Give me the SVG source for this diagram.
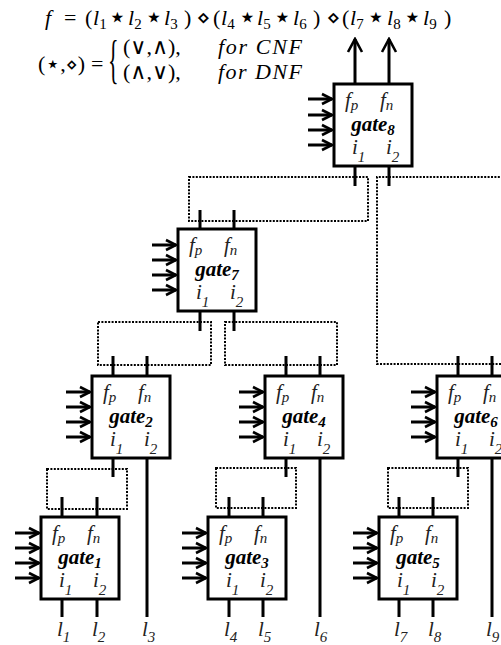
<svg xmlns="http://www.w3.org/2000/svg" width="501" height="645" viewBox="0 0 501 645">
<style>
.box{fill:#fff;stroke:#000;stroke-width:3}
.ln{stroke:#000;stroke-width:3;fill:none}
.dot{stroke:#000;stroke-width:2;fill:none;stroke-dasharray:2 1.4}
.lbl{font-family:"Liberation Serif",serif;font-style:italic;font-size:21px;fill:#222}
.gt{font-family:"Liberation Serif",serif;font-style:italic;font-weight:bold;font-size:21px;fill:#000}
.sub{font-size:15px}
.m{font-family:"Liberation Serif","DejaVu Serif",serif;font-size:22px;fill:#000}
.mi{font-style:italic}
.ms{font-size:15px}
.st{font-family:"DejaVu Sans",sans-serif;font-size:30px;fill:#000;text-anchor:middle}
.dm{font-family:"DejaVu Sans",sans-serif;font-size:22px;fill:#000;text-anchor:middle}
.st2{font-family:"DejaVu Sans",sans-serif;font-size:24px}
.dm2{font-family:"DejaVu Sans",sans-serif;font-size:19px}
</style>
<defs>
<marker id="ah" markerUnits="userSpaceOnUse" markerWidth="14" markerHeight="14" refX="11" refY="6" orient="auto" viewBox="0 0 14 12">
<path d="M1,1 L11,6 L1,11" fill="none" stroke="#000" stroke-width="2.6"/>
</marker>
<marker id="ahv" markerUnits="userSpaceOnUse" markerWidth="16" markerHeight="18" refX="14" refY="8" orient="auto" viewBox="0 0 16 16">
<path d="M1,1 L14,8 L1,15" fill="none" stroke="#000" stroke-width="2.6"/>
</marker>
<g id="gbody">
<rect class="box" x="0" y="0" width="78" height="82"/>
<text class="lbl" x="11" y="23">f<tspan class="sub" dy="3">p</tspan></text>
<text class="lbl" x="46" y="23">f<tspan class="sub" dy="3">n</tspan></text>
<text class="lbl" x="18" y="70">i<tspan class="sub" dy="8">1</tspan></text>
<text class="lbl" x="52" y="70">i<tspan class="sub" dy="8">2</tspan></text>
</g>
</defs>

<g id="formula">
<text class="m" y="25"><tspan class="mi" x="45">f</tspan><tspan x="64">=</tspan><tspan x="85">(</tspan><tspan class="mi" x="93">l</tspan><tspan class="ms" dy="4">1</tspan><tspan class="mi" x="128" dy="-4">l</tspan><tspan class="ms" dy="4">2</tspan><tspan class="mi" x="164" dy="-4">l</tspan><tspan class="ms" dy="4">3</tspan><tspan x="184" dy="-4">)</tspan><tspan x="213">(</tspan><tspan class="mi" x="221">l</tspan><tspan class="ms" dy="4">4</tspan><tspan class="mi" x="257" dy="-4">l</tspan><tspan class="ms" dy="4">5</tspan><tspan class="mi" x="293" dy="-4">l</tspan><tspan class="ms" dy="4">6</tspan><tspan x="313" dy="-4">)</tspan><tspan x="342">(</tspan><tspan class="mi" x="350">l</tspan><tspan class="ms" dy="4">7</tspan><tspan class="mi" x="387" dy="-4">l</tspan><tspan class="ms" dy="4">8</tspan><tspan class="mi" x="423" dy="-4">l</tspan><tspan class="ms" dy="4">9</tspan><tspan x="444" dy="-4">)</tspan></text>
<text class="st" y="27"><tspan x="117.5">⋆</tspan><tspan x="154">⋆</tspan><tspan x="247.5">⋆</tspan><tspan x="282.5">⋆</tspan><tspan x="376">⋆</tspan><tspan x="412.5">⋆</tspan></text>
<text class="dm" y="25"><tspan x="203.5">⋄</tspan><tspan x="333.5">⋄</tspan></text>
<text class="m" x="38" y="71">(<tspan class="st2" dy="1">⋆</tspan><tspan dy="-1">,</tspan><tspan class="dm2">⋄</tspan>)</text>
<text class="m" x="91" y="71">=</text>
<text class="m" transform="translate(108,77) scale(1,2.4)" font-size="21">{</text>
<text class="m" x="123" y="54">(∨,∧),</text>
<text class="m mi" x="218" y="54" textLength="84">for CNF</text>
<text class="m" x="123" y="79">(∧,∨),</text>
<text class="m mi" x="218" y="79" textLength="84">for DNF</text>
</g>

<g id="connectors">
<line class="ln" x1="355" y1="84" x2="355" y2="39" marker-end="url(#ahv)"/>
<line class="ln" x1="389" y1="84" x2="389" y2="39" marker-end="url(#ahv)"/>
<line class="ln" x1="308" y1="99" x2="332" y2="99" marker-end="url(#ah)"/>
<line class="ln" x1="308" y1="115" x2="332" y2="115" marker-end="url(#ah)"/>
<line class="ln" x1="308" y1="130" x2="332" y2="130" marker-end="url(#ah)"/>
<line class="ln" x1="308" y1="145" x2="332" y2="145" marker-end="url(#ah)"/>
<line class="ln" x1="152" y1="245" x2="176" y2="245" marker-end="url(#ah)"/>
<line class="ln" x1="152" y1="260" x2="176" y2="260" marker-end="url(#ah)"/>
<line class="ln" x1="152" y1="275" x2="176" y2="275" marker-end="url(#ah)"/>
<line class="ln" x1="152" y1="290" x2="176" y2="290" marker-end="url(#ah)"/>
<line class="ln" x1="66" y1="392" x2="90" y2="392" marker-end="url(#ah)"/>
<line class="ln" x1="66" y1="407" x2="90" y2="407" marker-end="url(#ah)"/>
<line class="ln" x1="66" y1="422" x2="90" y2="422" marker-end="url(#ah)"/>
<line class="ln" x1="66" y1="437" x2="90" y2="437" marker-end="url(#ah)"/>
<line class="ln" x1="239" y1="392" x2="263" y2="392" marker-end="url(#ah)"/>
<line class="ln" x1="239" y1="407" x2="263" y2="407" marker-end="url(#ah)"/>
<line class="ln" x1="239" y1="422" x2="263" y2="422" marker-end="url(#ah)"/>
<line class="ln" x1="239" y1="437" x2="263" y2="437" marker-end="url(#ah)"/>
<line class="ln" x1="411" y1="392" x2="435" y2="392" marker-end="url(#ah)"/>
<line class="ln" x1="411" y1="407" x2="435" y2="407" marker-end="url(#ah)"/>
<line class="ln" x1="411" y1="422" x2="435" y2="422" marker-end="url(#ah)"/>
<line class="ln" x1="411" y1="437" x2="435" y2="437" marker-end="url(#ah)"/>
<line class="ln" x1="15" y1="533" x2="39" y2="533" marker-end="url(#ah)"/>
<line class="ln" x1="15" y1="548" x2="39" y2="548" marker-end="url(#ah)"/>
<line class="ln" x1="15" y1="563" x2="39" y2="563" marker-end="url(#ah)"/>
<line class="ln" x1="15" y1="578" x2="39" y2="578" marker-end="url(#ah)"/>
<line class="ln" x1="182" y1="533" x2="206" y2="533" marker-end="url(#ah)"/>
<line class="ln" x1="182" y1="548" x2="206" y2="548" marker-end="url(#ah)"/>
<line class="ln" x1="182" y1="563" x2="206" y2="563" marker-end="url(#ah)"/>
<line class="ln" x1="182" y1="578" x2="206" y2="578" marker-end="url(#ah)"/>
<line class="ln" x1="353" y1="533" x2="377" y2="533" marker-end="url(#ah)"/>
<line class="ln" x1="353" y1="548" x2="377" y2="548" marker-end="url(#ah)"/>
<line class="ln" x1="353" y1="563" x2="377" y2="563" marker-end="url(#ah)"/>
<line class="ln" x1="353" y1="578" x2="377" y2="578" marker-end="url(#ah)"/>
<path class="ln" d="M355,166V186M389,166V186
M200,210V229M234,210V229M200,311V331M234,311V331
M113,356V376M147,356V376M113,458V477M147,458V617
M286,356V376M320,356V376M286,458V477M320,458V617
M458,356V376M492,356V376M458,458V477M492,458V617
M62,497V517M97,497V517M62,599V617M97,599V617
M229,497V517M263,497V517M229,599V617M263,599V617
M399,497V517M433,497V517M399,599V617M433,599V617"/>
<rect class="dot" x="189" y="177" width="179" height="44"/>
<path class="dot" d="M510,177H377V364H510"/>
<rect class="dot" x="98" y="322" width="113" height="43"/>
<rect class="dot" x="225" y="322" width="112" height="43"/>
<rect class="dot" x="47" y="469" width="80" height="40"/>
<rect class="dot" x="216" y="468" width="80" height="40"/>
<rect class="dot" x="388" y="468" width="80" height="40"/>
</g>

<g id="gate8" transform="translate(334,84)"><use href="#gbody"/><text class="gt" x="39" y="47" text-anchor="middle">gate<tspan class="sub" dy="4">8</tspan></text></g>
<g id="gate7" transform="translate(178,229)"><use href="#gbody"/><text class="gt" x="39" y="47" text-anchor="middle">gate<tspan class="sub" dy="4">7</tspan></text></g>
<g id="gate2" transform="translate(92,376)"><use href="#gbody"/><text class="gt" x="39" y="47" text-anchor="middle">gate<tspan class="sub" dy="4">2</tspan></text></g>
<g id="gate4" transform="translate(265,376)"><use href="#gbody"/><text class="gt" x="39" y="47" text-anchor="middle">gate<tspan class="sub" dy="4">4</tspan></text></g>
<g id="gate6" transform="translate(437,376)"><use href="#gbody"/><text class="gt" x="39" y="47" text-anchor="middle">gate<tspan class="sub" dy="4">6</tspan></text></g>
<g id="gate1" transform="translate(41,517)"><use href="#gbody"/><text class="gt" x="39" y="47" text-anchor="middle">gate<tspan class="sub" dy="4">1</tspan></text></g>
<g id="gate3" transform="translate(208,517)"><use href="#gbody"/><text class="gt" x="39" y="47" text-anchor="middle">gate<tspan class="sub" dy="4">3</tspan></text></g>
<g id="gate5" transform="translate(379,517)"><use href="#gbody"/><text class="gt" x="39" y="47" text-anchor="middle">gate<tspan class="sub" dy="4">5</tspan></text></g>

<g id="leaves">
<text class="lbl" x="57" y="636">l<tspan class="sub" dy="6">1</tspan></text>
<text class="lbl" x="92" y="636">l<tspan class="sub" dy="6">2</tspan></text>
<text class="lbl" x="142" y="636">l<tspan class="sub" dy="6">3</tspan></text>
<text class="lbl" x="224" y="636">l<tspan class="sub" dy="6">4</tspan></text>
<text class="lbl" x="258" y="636">l<tspan class="sub" dy="6">5</tspan></text>
<text class="lbl" x="314" y="636">l<tspan class="sub" dy="6">6</tspan></text>
<text class="lbl" x="394" y="636">l<tspan class="sub" dy="6">7</tspan></text>
<text class="lbl" x="428" y="636">l<tspan class="sub" dy="6">8</tspan></text>
<text class="lbl" x="486" y="636">l<tspan class="sub" dy="6">9</tspan></text>
</g>
</svg>
